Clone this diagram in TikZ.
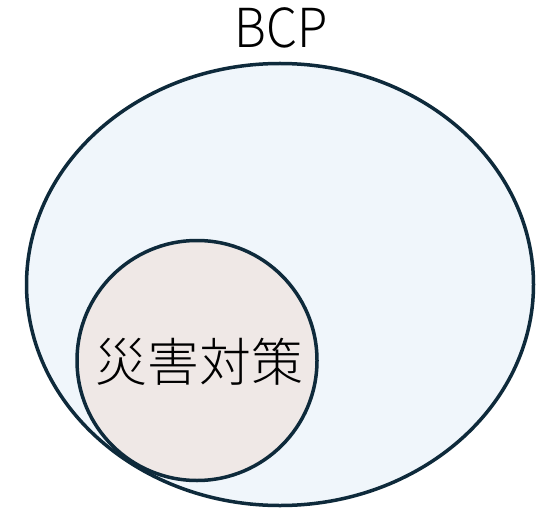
\documentclass[tikz,border=0pt]{standalone}
\usepackage{fontspec}
\newfontfamily\cjk{Noto Sans CJK JP}[UprightFont={* Light}]
\definecolor{edge}{HTML}{0E2A3B}
\definecolor{outerfill}{HTML}{F0F6FB}
\definecolor{innerfill}{HTML}{EFE8E6}
\begin{document}
\begin{tikzpicture}[x=1bp,y=-1bp,
  setshape/.style={draw=edge,line width=3.5bp}]
\useasboundingbox (0,0) rectangle (552,509);
\fill[white] (0,0) rectangle (552,509);
\draw[setshape,fill=outerfill] (280,284.5) ellipse [x radius=253.5,y radius=221];
\draw[setshape,fill=innerfill] (197,360.5) circle [radius=120];
\node[anchor=base,font=\cjk\fontsize{54}{60}\selectfont,inner sep=0,xscale=0.92] (bcp) at (281,48) {BCP};
\node[font=\cjk\fontsize{52}{60}\selectfont,inner sep=0] (disaster) at (199.5,362) {災害対策};
\end{tikzpicture}
\end{document}
